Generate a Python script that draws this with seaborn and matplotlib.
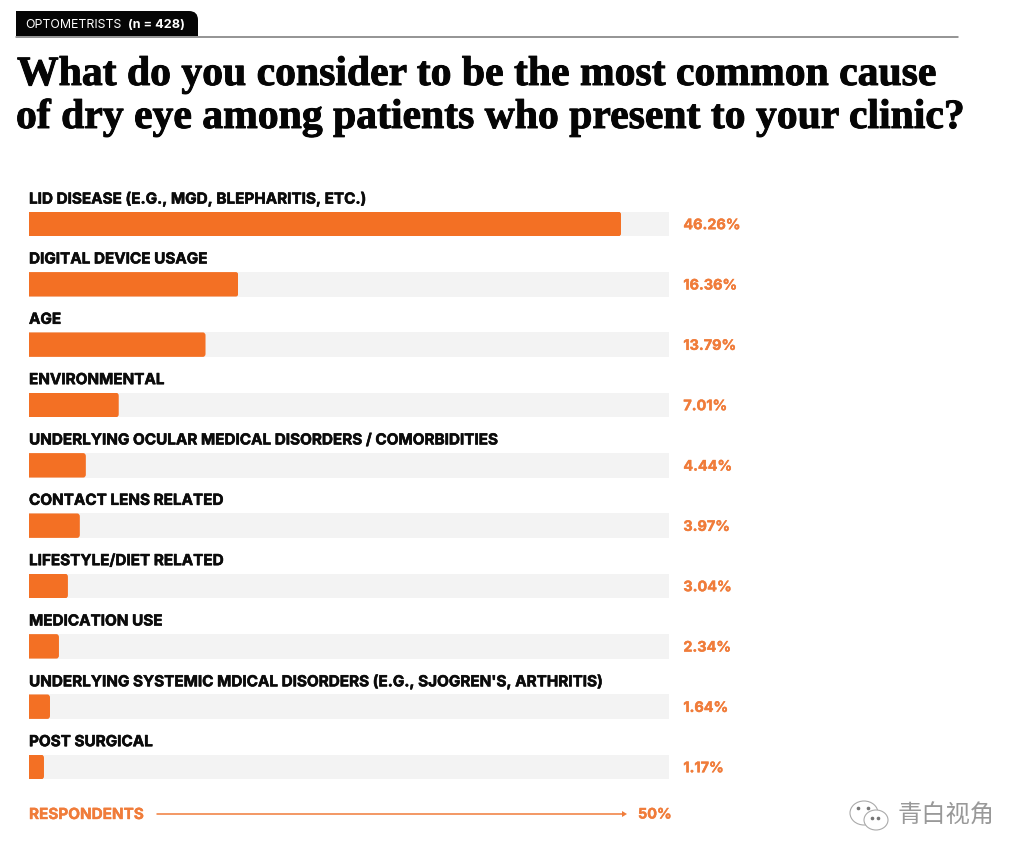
import matplotlib
matplotlib.use('Agg')
import matplotlib.pyplot as plt
import matplotlib.patheffects as pe
import pandas as pd
import seaborn as sns
from matplotlib.patches import Ellipse, FancyBboxPatch, Polygon, Rectangle

categories = [
    'LID DISEASE (E.G., MGD, BLEPHARITIS, ETC.)',
    'DIGITAL DEVICE USAGE',
    'AGE',
    'ENVIRONMENTAL',
    'UNDERLYING OCULAR MEDICAL DISORDERS / COMORBIDITIES',
    'CONTACT LENS RELATED',
    'LIFESTYLE/DIET RELATED',
    'MEDICATION USE',
    "UNDERLYING SYSTEMIC MDICAL DISORDERS (E.G., SJOGREN'S, ARTHRITIS)",
    'POST SURGICAL',
]
respondents = [46.26, 16.36, 13.79, 7.01, 4.44, 3.97, 3.04, 2.34, 1.64, 1.17]
axis_max = 50

ORANGE = '#F37024'
LABEL_ORANGE = '#F07C3A'
TRACK = '#F3F3F3'
INK = '#0B0B0B'
SANS = 'Inter'

sns.set_theme(style='white')
plt.rcParams['font.family'] = [SANS, 'DejaVu Sans']

df = pd.DataFrame({'category': categories, 'respondents': respondents, 'track': [axis_max] * len(categories)})

fig = plt.figure(figsize=(10.3, 8.62), dpi=100, facecolor='white')

# main chart, 640px wide, starts 29px from the left
top, bottom = 194.8, 798.2
ax = fig.add_axes([29 / 1030, 1 - bottom / 862, 640 / 1030, (bottom - top) / 862])
sns.barplot(data=df, x='track', y='category', color=TRACK, saturation=1, width=0.405, linewidth=0, ax=ax)
n_track = len(ax.patches)
sns.barplot(data=df, x='respondents', y='category', color=ORANGE, saturation=1, width=0.405, linewidth=0, ax=ax)
ax.set_xlim(0, axis_max)
ax.set_ylim(len(categories) - 0.5, -0.5)
ax.axis('off')

# rounded right corners on the orange bars
for bar in ax.patches[n_track:]:
    clip = FancyBboxPatch((bar.get_x() - 1, bar.get_y()), bar.get_width() + 1, bar.get_height(),
                          boxstyle='round,pad=0,rounding_size=0.2', mutation_aspect=0.25,
                          transform=ax.transData)
    bar.set_clip_path(clip)

label_fx = [pe.withStroke(linewidth=0.4, foreground=INK)]
value_fx = [pe.withStroke(linewidth=0.3, foreground=LABEL_ORANGE)]
for i, (name, value) in enumerate(zip(categories, respondents)):
    ax.text(0, i - 0.42, name, fontsize=11, fontweight='bold', color=INK, va='center', ha='left', clip_on=False,
            path_effects=label_fx)
    ax.text(axis_max + 1.12, i + 0.02, f'{value:.2f}%', fontsize=10.4, fontweight='bold', color=LABEL_ORANGE,
            va='center', ha='left', clip_on=False, path_effects=value_fx)

# overlay in pixel coords for header, title and footer
over = fig.add_axes([0, 0, 1, 1], facecolor='none')
over.set_xlim(0, 1030)
over.set_ylim(862, 0)
over.axis('off')

over.plot([16, 958], [37.5, 37.5], color='#777777', lw=1.1)
tab = FancyBboxPatch((16, 12), 182, 40, boxstyle='round,pad=0,rounding_size=9', fc='#050505', ec='none')
over.add_patch(tab)
tab.set_clip_path(Rectangle((0, 0), 1030, 37, transform=over.transData))
over.add_patch(Rectangle((16, 12), 20, 25, fc='#050505', ec='none'))
over.text(25, 25.5, 'OPTOMETRISTS', color='white', fontsize=8.9, va='center', ha='left')
over.text(128, 25.5, '(n = 428)', color='white', fontsize=9.1, fontweight='bold', va='center', ha='left')

title_kw = dict(family='Liberation Serif', fontsize=30, fontweight='bold', color='#050505', va='baseline', ha='left',
                path_effects=[pe.withStroke(linewidth=0.7, foreground='#050505')])
over.text(17, 86, 'What do you consider to be the most common cause', **title_kw)
over.text(16, 129, 'of dry eye among patients who present to your clinic?', **title_kw)

over.text(29, 815.5, 'RESPONDENTS', color=LABEL_ORANGE, fontsize=11, fontweight='bold', va='center', ha='left',
          path_effects=value_fx)
over.plot([157, 623], [815, 815], color=LABEL_ORANGE, lw=1.1)
over.add_patch(Polygon([[622, 812], [627, 815], [622, 818]], fc=LABEL_ORANGE, ec='none'))
over.text(638, 815.5, f'{axis_max}%', color=LABEL_ORANGE, fontsize=10.4, fontweight='bold', va='center', ha='left',
          path_effects=value_fx)

# watermark
over.add_patch(Ellipse((864, 814), 28, 24, fc='white', ec='#AAAAAA', lw=0.8))
over.add_patch(Ellipse((876, 821), 24, 20, fc='white', ec='#AAAAAA', lw=0.8))
over.plot([872, 878], [819, 819], ls='none', marker='o', ms=1.6, color='#777777')
over.plot([858, 868], [809, 809], ls='none', marker='o', ms=1.6, color='#777777')
over.text(898, 816, '青白视角', family=['Noto Sans CJK SC', 'DejaVu Sans'], fontsize=17.5, color='#999999',
          fontweight='light', va='center', ha='left')

fig.savefig('out.png', dpi=100)
